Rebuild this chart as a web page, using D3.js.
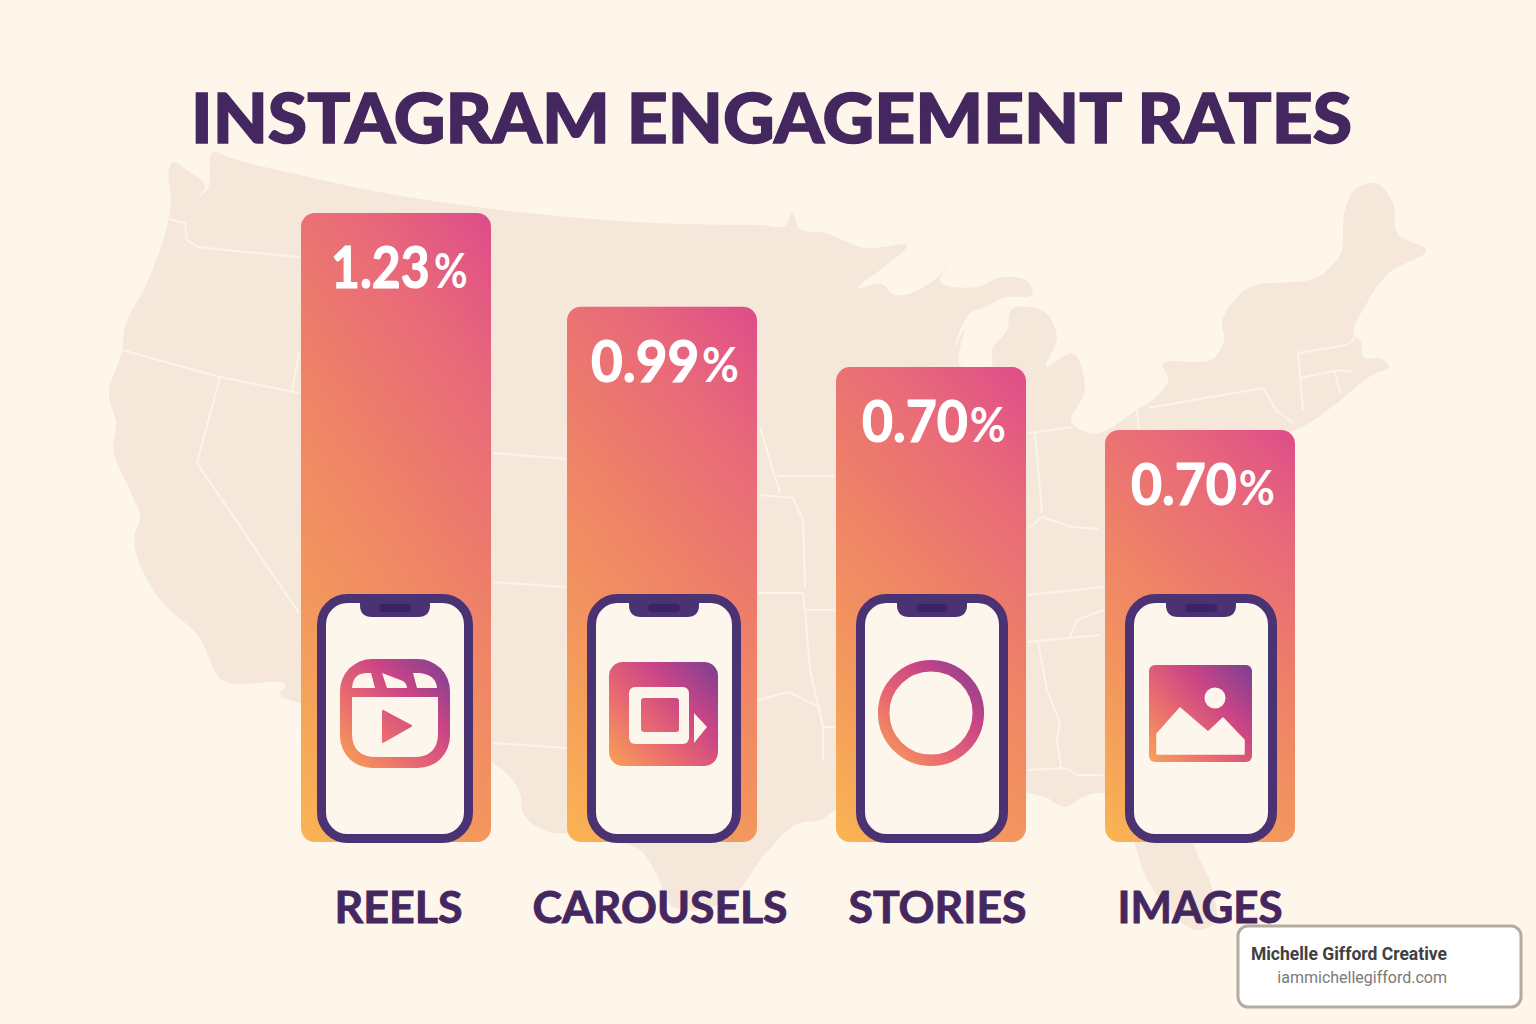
<!DOCTYPE html>
<html><head><meta charset="utf-8">
<script src="https://cdn.jsdelivr.net/npm/d3@7/dist/d3.min.js"></script>
<style>html,body{margin:0;padding:0;background:#FEF6EB}svg{display:block}</style>
</head><body><svg id="c" width="1536" height="1024"></svg>
<script>
const titleText = "INSTAGRAM ENGAGEMENT RATES";
const categories = ["REELS","CAROUSELS","STORIES","IMAGES"];
const rates = [1.23,0.99,0.70,0.70];
// drawn bar length as a share of the tallest bar (the bars are not proportional to the rates)
const barShare = [100,85.1,75.5,65.5];
const creditName = "Michelle Gifford Creative";
const creditUrl = "iammichellegifford.com";

// decorative backdrop: traced outline of the map
const landOutline = [[212,153],[214,152],[225,156],[300,175],[368,190],[502,210],[636,222],[760,225],[786,225],[792,212],[799,228],[825,233],[864,248],[907,246],[884,267],[858,288],[884,285],[890,292],[938,277],[951,262],[940,280],[977,287],[1003,277],[1029,283],[1033,293],[1003,298],[985,307],[972,312],[955,347],[964,330],[960,365],[992,365],[992,350],[1007,330],[1011,310],[1046,313],[1057,337],[1046,367],[1072,353],[1085,390],[1072,423],[1090,433],[1137,410],[1148,403],[1168,377],[1163,367],[1215,357],[1224,340],[1222,323],[1241,293],[1324,273],[1339,257],[1345,210],[1354,190],[1376,183],[1393,203],[1397,233],[1426,250],[1389,273],[1367,303],[1356,337],[1360,340],[1363,357],[1384,360],[1389,367],[1376,373],[1337,403],[1302,427],[1290,432],[1285,600],[1240,760],[1194,842],[1211,885],[1213,925],[1200,930],[1165,905],[1145,875],[1135,845],[1125,815],[1103,793],[1083,797],[1065,807],[1045,797],[1028,793],[860,790],[835,810],[820,820],[800,823],[766,853],[735,893],[700,910],[670,905],[658,877],[640,850],[600,840],[567,833],[553,833],[523,813],[520,793],[510,777],[493,763],[400,720],[299,703],[280,693],[284,688],[222,680],[199,637],[158,597],[136,530],[140,520],[131,493],[113,447],[116,423],[109,397],[122,350],[125,327],[145,287],[169,217],[171,203],[169,170],[171,163],[190,172],[205,188],[198,197],[207,190],[210,172]];
const stateLines = [
 [[169,219],[185,223],[187,240],[198,247],[225,250],[299,257]],
 [[122,350],[220,377],[299,393]],[[299,353],[292,390]],
 [[220,377],[197,463],[299,613]],
 [[493,453],[566,459]],[[493,582],[566,587]],[[493,743],[567,748]],
 [[760,427],[773,470],[780,493]],[[777,476],[834,476]],[[760,495],[793,498],[803,520],[805,587]],
 [[758,593],[803,593],[805,610],[835,610]],[[805,610],[810,670],[823,727],[823,760]],
 [[758,700],[789,692],[819,707],[823,727],[835,727]],
 [[1029,433],[1072,427]],[[1035,433],[1042,513]],[[1029,528],[1042,517],[1072,527],[1098,529]],
 [[1028,595],[1103,587]],[[1077,620],[1103,610]],[[1077,620],[1070,637]],[[1028,642],[1100,635]],
 [[1038,643],[1047,690],[1060,723],[1057,740],[1061,768]],[[1028,770],[1065,768],[1077,775],[1103,775]],
 [[1137,410],[1139,430]],[[1148,408],[1263,388],[1276,410],[1293,423]],
 [[1298,353],[1347,345],[1358,335]],[[1298,353],[1303,410]],[[1300,378],[1339,370],[1352,372]],[[1335,372],[1340,393]]
];

const svg = d3.select("#c");
const defs = svg.append("defs");
const W=1536,H=1024;
svg.append("rect").attr("width",W).attr("height",H).attr("fill","#FEF6EB");

// map backdrop
const line = d3.line();
const land = d3.line().curve(d3.curveCatmullRomClosed.alpha(1));
const map = svg.append("g");
map.append("path").attr("d",land(landOutline)).attr("fill","#F5E8DA");
map.selectAll("path.s").data(stateLines).join("path").attr("class","s").attr("d",d=>line(d)).attr("fill","none").attr("stroke","#FCF4E9").attr("stroke-width",2);

// scales
const barLeft = d3.scaleOrdinal().domain(categories).range([301,567,836,1105]);
const barWidth = 190;
const yShare = d3.scaleLinear().domain([0,100]).range([842,213]);
const phoneX = d3.scaleOrdinal().domain(categories).range([395,664,932,1201]);
const phoneW = d3.scaleOrdinal().domain(categories).range([156,154,152,152]);
const valueLeft = d3.scaleOrdinal().domain(categories).range([331,591,862,1131]);
const valueSqueeze = d3.scaleOrdinal().domain(categories).range([0.875,0.96,0.94,0.94]);
const percentGap = d3.scaleOrdinal().domain(categories).range([5,3,2,2]);
const labelX = d3.scaleOrdinal().domain(categories).range([398,659.5,937,1199.5]);

// bar gradient
const bg = defs.append("linearGradient").attr("id","barGrad").attr("x1",0).attr("y1",1).attr("x2",0.517).attr("y2",-0.207);
[[0,"#FAB553"],[0.25,"#F49A5C"],[0.55,"#EE8068"],[0.8,"#E8687A"],[1,"#DD4C8A"]].forEach(s=>bg.append("stop").attr("offset",s[0]).attr("stop-color",s[1]));

const rows = categories.map((c,i)=>({c,rate:rates[i],share:barShare[i]}));
const bars = svg.append("g").selectAll("g").data(rows).join("g");
bars.append("rect")
  .attr("x",d=>barLeft(d.c)).attr("width",barWidth)
  .attr("y",d=>yShare(d.share)).attr("height",d=>yShare(0)-yShare(d.share))
  .attr("rx",14).attr("fill","url(#barGrad)");

// rate labels
const vals = bars.append("text")
  .attr("transform",d=>`translate(${valueLeft(d.c)},${yShare(d.share)+75}) scale(${valueSqueeze(d.c)},1)`)
  .attr("fill","#fff").style("font-family","Lato").style("font-weight",700);
vals.append("tspan").attr("stroke","#fff").attr("stroke-width",1.2).style("font-size","57px").text(d=>d.rate.toFixed(2));
vals.append("tspan").attr("dx",d=>percentGap(d.c)).style("font-size","47px").text("%");

// phones
const PY0=594,PY1=843,SW=9;
const phones = bars.append("g");
phones.append("rect")
  .attr("x",d=>phoneX(d.c)-phoneW(d.c)/2+SW/2).attr("y",PY0+SW/2)
  .attr("width",d=>phoneW(d.c)-SW).attr("height",PY1-PY0-SW)
  .attr("rx",26).attr("fill","#FDF6EC").attr("stroke","#4A3273").attr("stroke-width",SW);
phones.append("path").attr("fill","#4A3273").attr("d",d=>{
  const x=phoneX(d.c),w=35;
  return `M${x-w},${PY0+5}H${x+w}V${PY0+11}Q${x+w},${PY0+23} ${x+w-12},${PY0+23}H${x-w+12}Q${x-w},${PY0+23} ${x-w},${PY0+11}Z`;
});
phones.append("rect").attr("x",d=>phoneX(d.c)-16).attr("y",PY0+10).attr("width",32).attr("height",8).attr("rx",4).attr("fill","#3B2465");

// icons, drawn relative to each phone centre
function iconGrad(id,x0,y0,x1,y1){
  const g=defs.append("linearGradient").attr("id",id).attr("gradientUnits","userSpaceOnUse")
    .attr("x1",x0).attr("y1",y1).attr("x2",x1).attr("y2",y0);
  [[0,"#F8A356"],[0.35,"#E96A70"],[0.65,"#CB4586"],[1,"#7A3F93"]].forEach(s=>g.append("stop").attr("offset",s[0]).attr("stop-color",s[1]));
  return `url(#${id})`;
}
const cream="#FDF6EC";
const iconDraw = {
  REELS(g,cx){
    const f=iconGrad("gReels",cx-55,659,cx+55,768);
    g.append("rect").attr("x",cx-55).attr("y",659).attr("width",110).attr("height",109).attr("rx",32).attr("fill",f);
    g.append("path").attr("fill",cream).attr("d",`M${cx-43},697H${cx+43}V733Q${cx+43},757 ${cx+19},757H${cx-19}Q${cx-43},757 ${cx-43},733Z`);
    g.append("path").attr("fill",cream).attr("d",`M${cx-43},688Q${cx-42},673 ${cx-28},673H${cx-24}L${cx-20},688Z`);
    g.append("path").attr("fill",cream).attr("d",`M${cx-13},673L${cx+8},681Q${cx+12},684 ${cx+12},688H${cx-8}Z`);
    g.append("path").attr("fill",cream).attr("d",`M${cx+18},673H${cx+25}Q${cx+41},675 ${cx+42},688H${cx+22}Z`);
    g.append("path").attr("fill",f).attr("stroke",f).attr("stroke-width",2).attr("stroke-linejoin","round").attr("d",`M${cx-12},711L${cx+16},726L${cx-12},742Z`);
  },
  CAROUSELS(g,cx){
    const f=iconGrad("gCar",cx-55,662,cx+55,766);
    g.append("rect").attr("x",cx-55).attr("y",662).attr("width",109).attr("height",104).attr("rx",14).attr("fill",f);
    g.append("rect").attr("x",cx-35).attr("y",687).attr("width",60).attr("height",57).attr("rx",6).attr("fill",cream);
    g.append("rect").attr("x",cx-23).attr("y",698).attr("width",38).attr("height",34).attr("rx",3).attr("fill",f);
    g.append("path").attr("fill",cream).attr("d",`M${cx+30},713L${cx+43},727L${cx+30},743Z`);
  },
  STORIES(g,cx){
    const f=iconGrad("gSto",cx-53,660,cx+53,766);
    g.append("circle").attr("cx",cx-1).attr("cy",713).attr("r",47.3).attr("fill","none").attr("stroke",f).attr("stroke-width",11.5);
  },
  IMAGES(g,cx){
    const f=iconGrad("gImg",cx-52,665,cx+51,762);
    g.append("rect").attr("x",cx-52).attr("y",665).attr("width",103).attr("height",97).attr("rx",6).attr("fill",f);
    g.append("circle").attr("cx",cx+14).attr("cy",698).attr("r",10.5).attr("fill",cream);
    g.append("path").attr("fill",cream).attr("stroke",cream).attr("stroke-width",1.5).attr("stroke-linejoin","round")
      .attr("d",`M${cx-44},734L${cx-21},708L${cx+7},732L${cx+22},718L${cx+43},740V754H${cx-44}Z`);
  }
};
phones.each(function(d){ iconDraw[d.c](d3.select(this).append("g"),phoneX(d.c)); });

// title
svg.append("text").attr("x",771.5).attr("y",143).attr("text-anchor","middle")
  .attr("textLength",1161).attr("lengthAdjust","spacingAndGlyphs")
  .attr("stroke","#45275F").attr("stroke-width",1.4)
  .attr("fill","#45275F").style("font-family","Lato").style("font-weight",900).style("font-size","68px").text(titleText);

// category axis
const axis = d3.axisBottom(labelX).tickSize(0).tickPadding(0);
const ax = svg.append("g").attr("transform","translate(0,892)").call(axis);
ax.select(".domain").remove();
const labelLen = d3.scaleOrdinal().domain(categories).range([128,255,178,165]);
ax.selectAll("text").attr("y",31).attr("dy",0).attr("text-anchor","middle")
  .attr("textLength",d=>labelLen(d)).attr("lengthAdjust","spacingAndGlyphs")
  .attr("stroke","#45275F").attr("stroke-width",0.9)
  .attr("fill","#45275F").style("font-family","Lato").style("font-weight",700).style("font-size","43px");

// credit box
const cb = svg.append("g");
cb.append("rect").attr("x",1238).attr("y",926).attr("width",283).attr("height",81).attr("rx",10).attr("fill","#fff").attr("stroke","#B5ABA0").attr("stroke-width",3);
cb.append("text").attr("x",1447).attr("y",960).attr("text-anchor","end").attr("fill","#404040")
  .style("font-family","Roboto").style("font-weight",700).style("font-size","17.5px").text(creditName);
cb.append("text").attr("x",1447).attr("y",983).attr("text-anchor","end").attr("fill","#7A7A7A")
  .style("font-family","Roboto").style("font-weight",400).style("font-size","16px").text(creditUrl);
</script></body></html>
